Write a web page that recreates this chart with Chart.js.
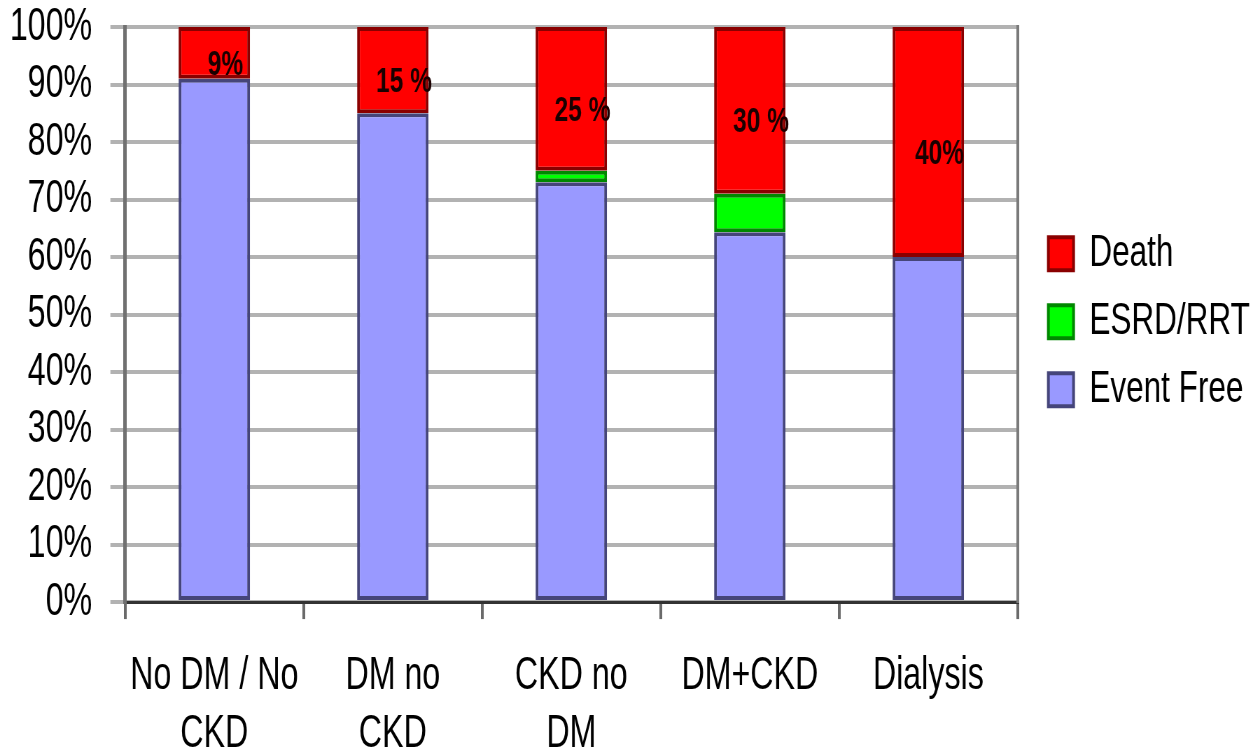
<!DOCTYPE html>
<html>
<head>
<meta charset="utf-8">
<script src="https://cdn.jsdelivr.net/npm/chart.js@4/dist/chart.umd.min.js"></script>
<style>
  html, body { margin: 0; padding: 0; background: #fff; overflow: hidden; }
  /* the original picture is squeezed sideways, so draw wide and squeeze */
  #wrap { width: 1789px; height: 791px; transform: scaleX(0.7); transform-origin: 0 0; }
</style>
</head>
<body>
<div id="wrap"><canvas id="chart"></canvas></div>
<script>
const categories = [['No DM / No', 'CKD'], ['DM no', 'CKD'], ['CKD no', 'DM'], 'DM+CKD', 'Dialysis'];
const eventFree = [91, 85, 73, 64.3, 60];
const esrdRrt = [0, 0, 2, 6.7, 0];
const death = [9, 15, 25, 29, 40];
const deathLabels = ['9%', '15 %', '25 %', '30 %', '40%'];
const yTicks = [0, 10, 20, 30, 40, 50, 60, 70, 80, 90, 100];

const fontName = '"Liberation Sans", Arial, sans-serif';

// writes the death percentage inside the red part of each bar
const deathLabelPlugin = {
  id: 'deathLabels',
  afterDatasetsDraw(chart) {
    const ctx = chart.ctx;
    const meta = chart.getDatasetMeta(2);
    ctx.save();
    ctx.font = 'bold 35px ' + fontName;
    ctx.fillStyle = '#1a0000';
    ctx.textAlign = 'center';
    ctx.textBaseline = 'middle';
    meta.data.forEach((bar, i) => {
      ctx.fillText(deathLabels[i], bar.x + 16, (bar.y + bar.base) / 2 + 12);
    });
    ctx.restore();
  }
};

new Chart(document.getElementById('chart'), {
  type: 'bar',
  data: {
    labels: categories,
    datasets: [
      { label: 'Event Free', data: eventFree, backgroundColor: '#9999ff', borderColor: '#45457a', borderWidth: 4, borderSkipped: false },
      { label: 'ESRD/RRT', data: esrdRrt, backgroundColor: '#00ff00', borderColor: '#008800', borderWidth: 4, borderSkipped: false },
      { label: 'Death', data: death, backgroundColor: '#ff0000', borderColor: '#8a0000', borderWidth: 4, borderSkipped: false }
    ]
  },
  options: {
    responsive: true,
    maintainAspectRatio: false,
    animation: false,
    categoryPercentage: 1,
    barPercentage: 0.4,
    // y axis is widened by 80 in afterFit, the -92 takes that back
    layout: { padding: { top: 0, left: -92, right: 1, bottom: 0 } },
    plugins: {
      tooltip: { enabled: false },
      legend: {
        position: 'right',
        fullSize: false,
        reverse: true,
        // empty title, only pushes the items down a little
        title: { display: true, text: ' ', font: { size: 2 }, padding: 6 },
        labels: {
          color: '#000',
          font: { family: fontName, size: 45 },
          boxWidth: 36,
          boxHeight: 33,
          padding: 23
        }
      }
    },
    scales: {
      x: {
        stacked: true,
        border: { display: true, color: '#333', width: 3 },
        grid: {
          offset: true,
          drawOnChartArea: false,
          color: '#6a6a6a',
          lineWidth: 4,
          tickLength: 17
        },
        ticks: {
          color: '#000',
          font: { family: fontName, size: 46, lineHeight: 1.26 },
          padding: 28,
          maxRotation: 0,
          autoSkip: false
        }
      },
      y: {
        stacked: true,
        min: 0,
        max: 100,
        border: { display: true, color: '#707070', width: 5 },
        grid: { color: '#b2b2b2', lineWidth: 4, tickLength: 21 },
        afterBuildTicks: axis => { axis.ticks = yTicks.map(v => ({ value: v })); },
        afterFit: axis => { axis.paddingTop = 27; axis.width += 80; },
        ticks: {
          color: '#000',
          font: { family: fontName, size: 46 },
          padding: 26,
          autoSkip: false,
          callback: v => v + '%'
        }
      },
      // right edge of the plot, also keeps the legend off the bars
      yRight: {
        position: 'right',
        min: 0,
        max: 100,
        border: { display: true, color: '#7a7a7a', width: 4 },
        grid: { drawOnChartArea: false, drawTicks: true, tickLength: 21, color: 'rgba(0,0,0,0)' },
        ticks: { display: false }
      }
    }
  },
  plugins: [deathLabelPlugin]
});
</script>
</body>
</html>
